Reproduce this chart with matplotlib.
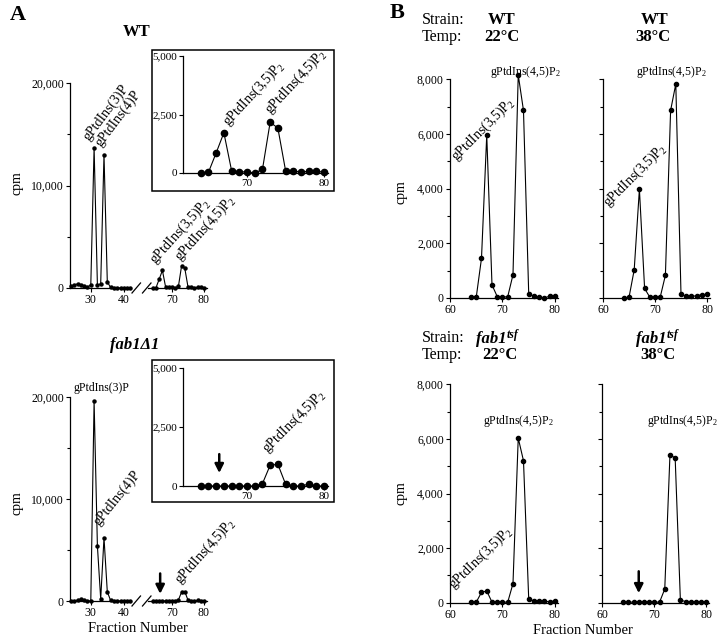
import matplotlib
matplotlib.use('Agg')
import matplotlib.pyplot as plt
from matplotlib.lines import Line2D
from matplotlib.patches import Rectangle
from matplotlib.ticker import FuncFormatter, MultipleLocator

plt.rcParams['font.family'] = 'Liberation Serif'
plt.rcParams['mathtext.fontset'] = 'custom'
plt.rcParams['mathtext.rm'] = 'Liberation Serif'
plt.rcParams['mathtext.it'] = 'Liberation Serif:italic'
plt.rcParams['mathtext.bf'] = 'Liberation Serif:bold'

W, H = 720, 641

# panel A, fractions 24-42 and 64-80 (cpm)
frac_left = list(range(24, 43))
frac_right = list(range(64, 81))
wt_left = [150, 300, 400, 300, 150, 100, 300, 13700, 300, 400, 13000, 600,
           50, 0, 0, 0, 30, 0, 0]
wt_right = [0, 30, 860, 1720, 100, 50, 50, 0, 150, 2170, 1920, 100, 100,
            30, 80, 80, 30]
fab_left = [0, 0, 100, 150, 100, 0, 0, 19600, 5400, 200, 6200, 900,
            50, 0, 0, 0, 0, 0, 0]
fab_right = [0, 0, 0, 0, 0, 0, 0, 0, 100, 880, 920, 80, 0, 0, 80, 0, 0]

# panel B, fractions 64-80
frac_b = list(range(64, 81))
wt22 = [30, 30, 1450, 5960, 480, 50, 30, 50, 850, 8160, 6860, 130, 70, 30, 0, 70, 70]
wt38 = [0, 20, 1030, 3980, 350, 30, 30, 30, 830, 6860, 7830, 130, 60, 60, 80, 120, 130]
tsf22 = [20, 20, 380, 430, 20, 20, 20, 20, 700, 6030, 5200, 120, 70, 60, 60, 30, 70]
tsf38 = [20, 20, 20, 20, 20, 20, 20, 20, 500, 5420, 5300, 100, 40, 40, 40, 40, 40]

P3 = 'gPtdIns(3)P'
P4 = 'gPtdIns(4)P'
P35 = 'gPtdIns(3,5)P$_2$'
P45 = 'gPtdIns(4,5)P$_2$'

fig = plt.figure(figsize=(W / 100, H / 100), dpi=100)
comma = FuncFormatter(lambda v, p: f'{v:,.0f}')


def px(x0, y0, x1, y1):
    return [x0 / W, 1 - y1 / H, (x1 - x0) / W, (y1 - y0) / H]


def ft(x, y, s, **kw):
    return fig.text(x / W, 1 - y / H, s, **kw)


def style(ax, left=True, pad=1.5, size=8.5):
    for s in ['top', 'right']:
        ax.spines[s].set_visible(False)
    ax.spines['left'].set_visible(left)
    for s in ['left', 'bottom']:
        ax.spines[s].set_linewidth(0.9)
    ax.tick_params(which='both', direction='out', width=0.8, labelsize=size, pad=pad)
    ax.tick_params(which='major', length=3)
    ax.tick_params(which='minor', length=2)
    ax.patch.set_visible(False)
    ax.yaxis.set_major_formatter(comma)


def line(ax, x, y, ms):
    ax.plot(x, y, '-o', color='k', lw=0.8, ms=ms, clip_on=False)


def arrow(ax, x, y0, y1):
    ax.annotate('', xy=(x, y1), xytext=(x, y0),
                arrowprops=dict(arrowstyle='-|>', color='k', lw=1.8,
                                mutation_scale=13, shrinkA=0, shrinkB=0))


def slashes(y):
    for x in (132, 142.5):
        fig.add_artist(Line2D([x / W, (x + 8.5) / W], [1 - (y + 5) / H, 1 - (y - 5) / H],
                              color='k', lw=0.9, transform=fig.transFigure))


def panel_a(ytop, ybot, left_vals, right_vals):
    axl = fig.add_axes(px(70, ytop, 131.4, ybot))
    style(axl)
    line(axl, frac_left, left_vals, 2.2)
    axl.set_xlim(23.7, 42.3)
    axl.set_ylim(0, 20000)
    axl.set_yticks([0, 10000, 20000])
    axl.yaxis.set_minor_locator(MultipleLocator(5000))
    axl.set_xticks([30, 40])

    axr = fig.add_axes(px(148, ytop, 207.2, ybot))
    style(axr, left=False)
    line(axr, frac_right, right_vals, 2.2)
    axr.set_xlim(62.5, 81)
    axr.set_ylim(0, 20000)
    axr.set_yticks([])
    axr.set_xticks([70, 80])
    slashes(ybot)
    return axl, axr


def inset(box, axbox, vals):
    fig.add_artist(Rectangle((box[0] / W, 1 - box[3] / H), (box[2] - box[0]) / W,
                             (box[3] - box[1]) / H, fill=False, lw=1.1,
                             transform=fig.transFigure))
    ax = fig.add_axes(px(*axbox))
    style(ax, pad=1, size=8)
    line(ax, frac_right, vals, 4.5)
    ax.set_xlim(61.7, 80.5)
    ax.set_ylim(0, 5000)
    ax.set_yticks([0, 2500, 5000])
    ax.set_xticks([70, 80])
    return ax


def panel_b(box, vals, labels=True):
    ax = fig.add_axes(px(*box))
    style(ax)
    line(ax, frac_b, vals, 3)
    ax.set_xlim(60, 80.5)
    ax.set_ylim(0, 8000)
    ax.set_yticks(range(0, 8001, 2000))
    ax.yaxis.set_minor_locator(MultipleLocator(1000))
    ax.set_xticks([60, 70, 80])
    if not labels:
        ax.set_yticklabels([])
    return ax


lab = dict(fontsize=10, rotation_mode='anchor', ha='left', va='baseline', clip_on=False)
flat = dict(fontsize=8.5, ha='center', va='center', clip_on=False)

# ---- panel A, WT
al, ar = panel_a(83, 288, wt_left, wt_right)
al.text(29.4, 14300, P3, rotation=53, **lab)
al.text(33.0, 13700, P4, rotation=53, **lab)
ar.text(64.8, 2300, P35, rotation=48, **lab)
ar.text(72.4, 2600, P45, rotation=48, **lab)
ai = inset((152, 50, 334, 190.5), (183, 56, 328, 173), wt_right)
ai.text(67.6, 2000, P35, rotation=47, **lab)
ai.text(73.0, 2500, P45, rotation=47, **lab)

# ---- panel A, fab1 delta1
bl, br = panel_a(397, 601, fab_left, fab_right)
bl.text(33.3, 20300, P3, fontsize=8.5, ha='center', va='bottom', clip_on=False)
bl.text(32.6, 7400, P4, rotation=51, **lab)
br.text(72.4, 1600, P45, rotation=48, **lab)
arrow(br, 66.3, 2700, 700)
bi = inset((152, 360, 334, 502), (183, 368, 328, 486), fab_right)
bi.text(72.6, 1400, P45, rotation=45, **lab)
arrow(bi, 66.4, 1350, 550)

# ---- panel B
c1 = panel_b((450, 79.3, 557.6, 298), wt22)
c1.text(74.3, 8250, P45, **flat)
c1.text(61.2, 5000, P35, rotation=45, **lab)
c2 = panel_b((603, 79.3, 709.6, 298), wt38, labels=False)
c2.text(73.2, 8250, P45, **flat)
c2.text(61.0, 3300, P35, rotation=45, **lab)
c3 = panel_b((450, 384.3, 557.6, 602.7), tsf22)
c3.text(73.0, 6650, P45, **flat)
c3.text(60.7, 500, P35, rotation=44, **lab)
c4 = panel_b((602.3, 384.3, 709, 602.7), tsf38, labels=False)
c4.text(75.3, 6650, P45, **flat)
arrow(c4, 67, 1150, 350)

# ---- titles and labels
ft(18, 15, 'A', fontsize=16, fontweight='bold', ha='center', va='center')
ft(397, 13, 'B', fontsize=16, fontweight='bold', ha='center', va='center')
ft(137, 32, 'WT', fontsize=12, fontweight='bold', ha='center', va='center')
ft(135, 345, 'fab1\u03941', fontsize=12, fontweight='bold', style='italic',
   ha='center', va='center')

for y in (183, 503):
    ft(17, y, 'cpm', fontsize=10, rotation=90, ha='center', va='center')
for y in (192, 493):
    ft(401, y, 'cpm', fontsize=10, rotation=90, ha='center', va='center')
ft(138, 628, 'Fraction Number', fontsize=10.5, ha='center', va='center')
ft(583, 630, 'Fraction Number', fontsize=10.5, ha='center', va='center')

hdr = dict(fontsize=11.5, ha='left', va='center')
for y0 in (20, 338):
    ft(422, y0, 'Strain:', **hdr)
    ft(422, y0 + 17, 'Temp:', **hdr)
bold = dict(fontsize=12, fontweight='bold', ha='center', va='center')
ft(502, 20, 'WT', **bold)
ft(502, 37, '22\u00b0C', **bold)
ft(655, 20, 'WT', **bold)
ft(653, 37, '38\u00b0C', **bold)
ft(500, 355, '22\u00b0C', **bold)
ft(658, 355, '38\u00b0C', **bold)
for xc in (507, 667):
    ft(xc, 339, 'fab1', fontsize=12, fontweight='bold', style='italic',
       ha='right', va='center')
    ft(xc, 335, 'tsf', fontsize=8.5, fontweight='bold', style='italic',
       ha='left', va='center')

fig.savefig('out.png', dpi=100)
